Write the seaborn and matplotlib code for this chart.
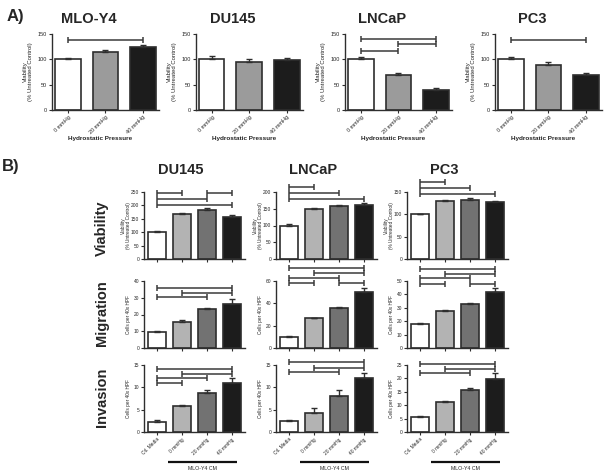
import numpy as np
import pandas as pd
import matplotlib
matplotlib.use("Agg")
import matplotlib.pyplot as plt
import matplotlib.transforms as mtransforms
import seaborn as sns

W, H = 612, 476

# ---------------- Panel A data ----------------
A_LINES = ["MLO-Y4", "DU145", "LNCaP", "PC3"]
A_CATS = ["0 mmHg", "20 mmHg", "40 mmHg"]
A_MEANS = {"MLO-Y4": [100, 115, 125], "DU145": [100, 94, 98],
           "LNCaP": [100, 70, 40], "PC3": [100, 88, 69]}
A_ERRS = {"MLO-Y4": [2, 4, 3], "DU145": [6, 6, 4],
          "LNCaP": [5, 4, 3], "PC3": [5, 6, 5]}
A_BRACKETS = {"MLO-Y4": [(0, 2, 138)], "DU145": [],
              "LNCaP": [(0, 2, 140), (1, 2, 130), (0, 1, 116)],
              "PC3": [(0, 2, 138)]}
A_YTICKS = [0, 50, 100, 150]
A_YLABEL = "Viability\n(% Untreated Control)"
A_XLABEL = "Hydrostatic Pressure"
A_COLORS = ["#ffffff", "#9b9b9b", "#1c1c1c"]

# ---------------- Panel B data ----------------
B_LINES = ["DU145", "LNCaP", "PC3"]
B_ROWS = ["Viability", "Migration", "Invasion"]
B_CATS = ["Ctl. Media", "0 mmHg", "20 mmHg", "40 mmHg"]
B_COLORS = ["#ffffff", "#b3b3b3", "#727272", "#1c1c1c"]
B_YLABELS = {"Viability": "Viability\n(% Untreated Control)",
             "Migration": "Cells per 40x HPF",
             "Invasion": "Cells per 40x HPF"}

B_VIA_MEANS = {"DU145": [100, 168, 184, 157], "LNCaP": [100, 150, 158, 160],
               "PC3": [100, 129, 132, 128]}
B_VIA_ERRS = {"DU145": [3, 4, 5, 7], "LNCaP": [3, 2, 3, 6],
              "PC3": [1.5, 2, 4, 2]}
B_VIA_BR = {"DU145": [(0, 1, 246), (2, 3, 246), (0, 2, 224), (0, 3, 201)],
            "LNCaP": [(0, 1, 215), (0, 2, 197), (0, 3, 179)],
            "PC3": [(0, 1, 172), (0, 2, 159), (0, 3, 146)]}
B_VIA_YTICKS = {"DU145": [0, 50, 100, 150, 200, 250],
                "LNCaP": [0, 50, 100, 150, 200],
                "PC3": [0, 50, 100, 150]}

B_MIG_MEANS = {"DU145": [9.5, 15.5, 23, 26.5], "LNCaP": [10, 26.5, 36, 50],
               "PC3": [18, 27.5, 32.5, 42]}
B_MIG_ERRS = {"DU145": [0.7, 1.2, 1, 3], "LNCaP": [1, 0.6, 1, 4],
              "PC3": [0.4, 1, 1, 2.5]}
B_MIG_BR = {"DU145": [(0, 3, 36), (1, 3, 33), (0, 2, 30.5)],
            "LNCaP": [(0, 3, 72), (1, 3, 67), (0, 2, 63), (0, 1, 58), (2, 3, 58)],
            "PC3": [(0, 3, 59), (1, 3, 55), (0, 2, 52), (0, 1, 48), (2, 3, 48)]}
B_MIG_YTICKS = {"DU145": [0, 10, 20, 30, 40], "LNCaP": [0, 20, 40, 60],
                "PC3": [0, 10, 20, 30, 40, 50]}

B_INV_MEANS = {"DU145": [2.2, 5.9, 8.7, 11], "LNCaP": [2.4, 4.3, 8.1, 12],
               "PC3": [5.7, 11.3, 15.6, 19.8]}
B_INV_ERRS = {"DU145": [0.4, 0.2, 0.8, 1], "LNCaP": [0.2, 1, 1.2, 1.3],
              "PC3": [0.4, 0.3, 0.8, 2.2]}
B_INV_BR = {"DU145": [(0, 3, 14.1), (1, 3, 13), (0, 2, 12.1), (0, 1, 11)],
            "LNCaP": [(0, 3, 15.6), (1, 3, 14.4), (0, 2, 13.4)],
            "PC3": [(0, 3, 25.3), (1, 3, 23.5), (0, 2, 22)]}
B_INV_YTICKS = {"DU145": [0, 5, 10, 15], "LNCaP": [0, 5, 10, 15],
                "PC3": [0, 5, 10, 15, 20, 25]}
B_GROUP_LABEL = "MLO-Y4 CM"

# ---------------- style ----------------
sns.set_style("ticks")
plt.rcParams["font.family"] = ["Liberation Sans", "DejaVu Sans"]
EDGE = "#2e2e2e"
BRC = "#3a3a3a"

fig = plt.figure(figsize=(W / 100, H / 100), dpi=100)


def add_ax(left, top, w, h):
    return fig.add_axes([left / W, 1 - (top + h) / H, w / W, h / H])


def ftext(x, y, s, **kw):
    fig.text(x / W, 1 - y / H, s, ha="center", va="center", **kw)


def draw_bars(ax, cats, means, errs, colors, width):
    df = pd.DataFrame({"cat": cats, "val": means})
    sns.barplot(data=df, x="cat", y="val", hue="cat", order=cats,
                hue_order=cats, palette=colors, width=width,
                edgecolor=EDGE, linewidth=1.2, legend=False,
                errorbar=None, ax=ax)
    ax.errorbar(np.arange(len(cats)), means,
                yerr=[np.zeros(len(errs)), errs], fmt="none",
                ecolor=EDGE, elinewidth=1.0, capsize=2.2, capthick=1.0,
                zorder=4)


def bracket(ax, i, j, y):
    ax.plot([i, j], [y, y], color=BRC, lw=1.1, clip_on=False,
            solid_capstyle="butt", zorder=5)
    ax.plot([i, j], [y, y], ls="none", marker="|", ms=4, mew=1.1,
            color=BRC, clip_on=False, zorder=5)


def style_ax(ax, ticksize):
    sns.despine(ax=ax)
    for s in ("left", "bottom"):
        ax.spines[s].set_linewidth(1.0)
        ax.spines[s].set_color(EDGE)
    ax.tick_params(axis="both", length=2, width=0.8, color=EDGE,
                   labelsize=ticksize, pad=1.5)
    ax.set_xlabel("")
    ax.set_ylabel("")


# ---------------- Panel A ----------------
ftext(15, 16, "A)", fontsize=12, fontweight="bold")
A_LEFTS = [52, 196, 345, 495]
for name, left in zip(A_LINES, A_LEFTS):
    ax = add_ax(left, 34, 106.5, 76)
    draw_bars(ax, A_CATS, A_MEANS[name], A_ERRS[name], A_COLORS, 0.68)
    style_ax(ax, 4.0)
    ax.set_xlim(-0.42, 2.42)
    ax.set_ylim(0, 150)
    ax.set_yticks(A_YTICKS)
    ax.set_xticks(range(len(A_CATS)))
    ax.set_xticklabels(A_CATS, rotation=45, ha="right",
                       rotation_mode="anchor")
    ax.set_ylabel(A_YLABEL, fontsize=4.3, linespacing=1.1)
    ax.yaxis.set_label_coords(-19 / 106.5, 0.5)
    ax.set_xlabel(A_XLABEL, fontsize=4.6, fontweight="bold")
    ax.xaxis.set_label_coords(0.45, -26 / 76)
    for (i, j, y) in A_BRACKETS[name]:
        bracket(ax, i, j, y)
    ftext(left + 37, 19, name, fontsize=10.5, fontweight="bold")

# ---------------- Panel B ----------------
ftext(11, 167, "B)", fontsize=12, fontweight="bold")
B_LEFTS = [144, 276, 407]
B_TOPS = [192, 281, 365]
ROW_DATA = [(B_VIA_MEANS, B_VIA_ERRS, B_VIA_BR, B_VIA_YTICKS),
            (B_MIG_MEANS, B_MIG_ERRS, B_MIG_BR, B_MIG_YTICKS),
            (B_INV_MEANS, B_INV_ERRS, B_INV_BR, B_INV_YTICKS)]
ROW_LABEL_Y = [228, 313, 397]

for r, (row, top) in enumerate(zip(B_ROWS, B_TOPS)):
    means_d, errs_d, br_d, ticks_d = ROW_DATA[r]
    ftext(102, ROW_LABEL_Y[r], row, fontsize=10.5, fontweight="bold",
          rotation=90)
    for name, left in zip(B_LINES, B_LEFTS):
        ax = add_ax(left, top, 101, 67)
        draw_bars(ax, B_CATS, means_d[name], errs_d[name], B_COLORS, 0.7)
        style_ax(ax, 3.5)
        ax.set_xlim(-0.52, 3.52)
        ax.set_ylim(0, ticks_d[name][-1])
        ax.set_yticks(ticks_d[name])
        ax.set_xticks(range(len(B_CATS)))
        if r == 2:
            ax.set_xticklabels(B_CATS, rotation=45, ha="right",
                               rotation_mode="anchor")
            trans = mtransforms.blended_transform_factory(ax.transData,
                                                          fig.transFigure)
            ax.plot([0.45, 3.2], [1 - 462 / H, 1 - 462 / H], color="#111111",
                    lw=1.6, transform=trans, clip_on=False,
                    solid_capstyle="butt")
            ax.text(1.8, 1 - 469 / H, B_GROUP_LABEL, transform=trans,
                    ha="center", va="center", fontsize=3.8)
        else:
            ax.set_xticklabels([])
        ax.set_ylabel(B_YLABELS[row], fontsize=3.4, linespacing=1.1)
        ax.yaxis.set_label_coords(-13 / 101, 0.5)
        for (i, j, y) in br_d[name]:
            bracket(ax, i, j, y)
        if r == 0:
            ftext(left + 37, 170, name, fontsize=10.5, fontweight="bold")

fig.savefig("out.png", dpi=100)
